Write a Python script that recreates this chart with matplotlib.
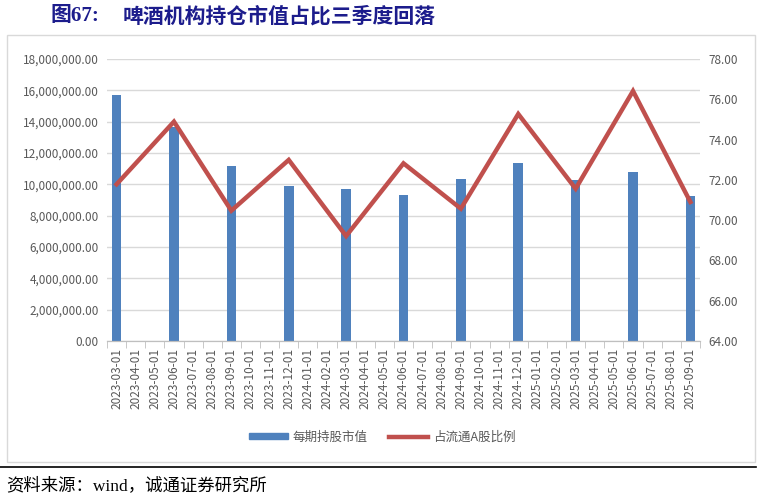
import matplotlib.pyplot as plt
import numpy as np
from matplotlib.patches import Rectangle
from matplotlib.lines import Line2D

plt.rcParams['font.family'] = ['Noto Sans CJK SC', 'DejaVu Sans']

months = ["2023-03-01", "2023-04-01", "2023-05-01", "2023-06-01", "2023-07-01", "2023-08-01",
          "2023-09-01", "2023-10-01", "2023-11-01", "2023-12-01", "2024-01-01", "2024-02-01",
          "2024-03-01", "2024-04-01", "2024-05-01", "2024-06-01", "2024-07-01", "2024-08-01",
          "2024-09-01", "2024-10-01", "2024-11-01", "2024-12-01", "2025-01-01", "2025-02-01",
          "2025-03-01", "2025-04-01", "2025-05-01", "2025-06-01", "2025-07-01", "2025-08-01",
          "2025-09-01"]
quarters = ["2023-03-01", "2023-06-01", "2023-09-01", "2023-12-01", "2024-03-01", "2024-06-01",
            "2024-09-01", "2024-12-01", "2025-03-01", "2025-06-01", "2025-09-01"]
holding_value = [15700000, 13660000, 11170000, 9890000, 9720000, 9300000,
                 10360000, 11360000, 10280000, 10790000, 9260000]
float_ratio = [71.78, 74.89, 70.47, 72.99, 69.21, 72.82,
               70.57, 75.27, 71.56, 76.41, 70.90]

grey = '#595959'
blue = '#4F81BD'
red = '#C0504D'

fig = plt.figure(figsize=(7.6, 5.0), dpi=100)
ax = fig.add_axes([0.1408, 0.318, 0.7802, 0.564])
ax2 = ax.twinx()

x_all = np.arange(len(months))
xq = [months.index(q) for q in quarters]

ax.bar(xq, holding_value, width=0.5, color=blue, zorder=2)
ax2.plot(xq, float_ratio, color=red, lw=3.2, solid_joinstyle='miter', zorder=3)

ax.set_xlim(-0.5, len(months) - 0.5)
ax.set_ylim(0, 18000000)
ax.set_yticks(np.arange(0, 18000001, 2000000))
ax.set_yticklabels([f"{v:,.2f}" for v in np.arange(0, 18000001, 2000000)])
ax2.set_ylim(64, 78)
ax2.set_yticks(np.arange(64, 78.1, 2))
ax2.set_yticklabels([f"{v:.2f}" for v in np.arange(64, 78.1, 2)])

ax.set_xticks(x_all)
ax.set_xticklabels(months, rotation=90)
ax.set_xticks(np.arange(-0.5, len(months), 1), minor=True)
ax.tick_params(axis='x', which='major', length=0, pad=5, labelsize=8.5, colors=grey)
ax.tick_params(axis='x', which='minor', length=5, color='#BFBFBF')
ax.tick_params(axis='y', length=0, labelsize=8.5, colors=grey, pad=6)
ax2.tick_params(axis='y', length=0, labelsize=8.5, colors=grey, pad=6)

ax.grid(axis='y', color='#D9D9D9', lw=1, zorder=0)
ax.set_axisbelow(True)
for a in (ax, ax2):
    for s in ('top', 'left', 'right'):
        a.spines[s].set_visible(False)
    a.spines['bottom'].set_color('#BFBFBF')

handles = [Rectangle((0, 0), 1, 1, color=blue), Line2D([], [], color=red, lw=3.2)]
fig.legend(handles, ['每期持股市值', '占流通A股比例'], loc='center', bbox_to_anchor=(0.503, 0.126),
           ncol=2, frameon=False, fontsize=9, labelcolor=grey, handlelength=3.1,
           handleheight=0.45, columnspacing=1.75, handletextpad=0.4)

# outer frame and separator lines
fig.patches.append(Rectangle((0.009, 0.076), 0.985, 0.854, transform=fig.transFigure,
                             fill=False, edgecolor='#D9D9D9', lw=1))
fig.add_artist(Line2D([0.0, 0.995], [0.066, 0.066], color='black', lw=1.2))

serif = ['Liberation Serif', 'Noto Sans CJK SC']
fig.text(0.066, 0.968, '图67:', fontsize=15, fontweight='bold', color='#1C1C8C', va='center',
         family=serif)
fig.text(0.162, 0.968, '啤酒机构持仓市值占比三季度回落', fontsize=15, fontweight='bold',
         color='#1C1C8C', va='center')
fig.text(0.008, 0.028, '资料来源：wind，诚通证券研究所', fontsize=12.5, color='black', va='center',
         family=serif)

fig.savefig('out.png', dpi=100)
